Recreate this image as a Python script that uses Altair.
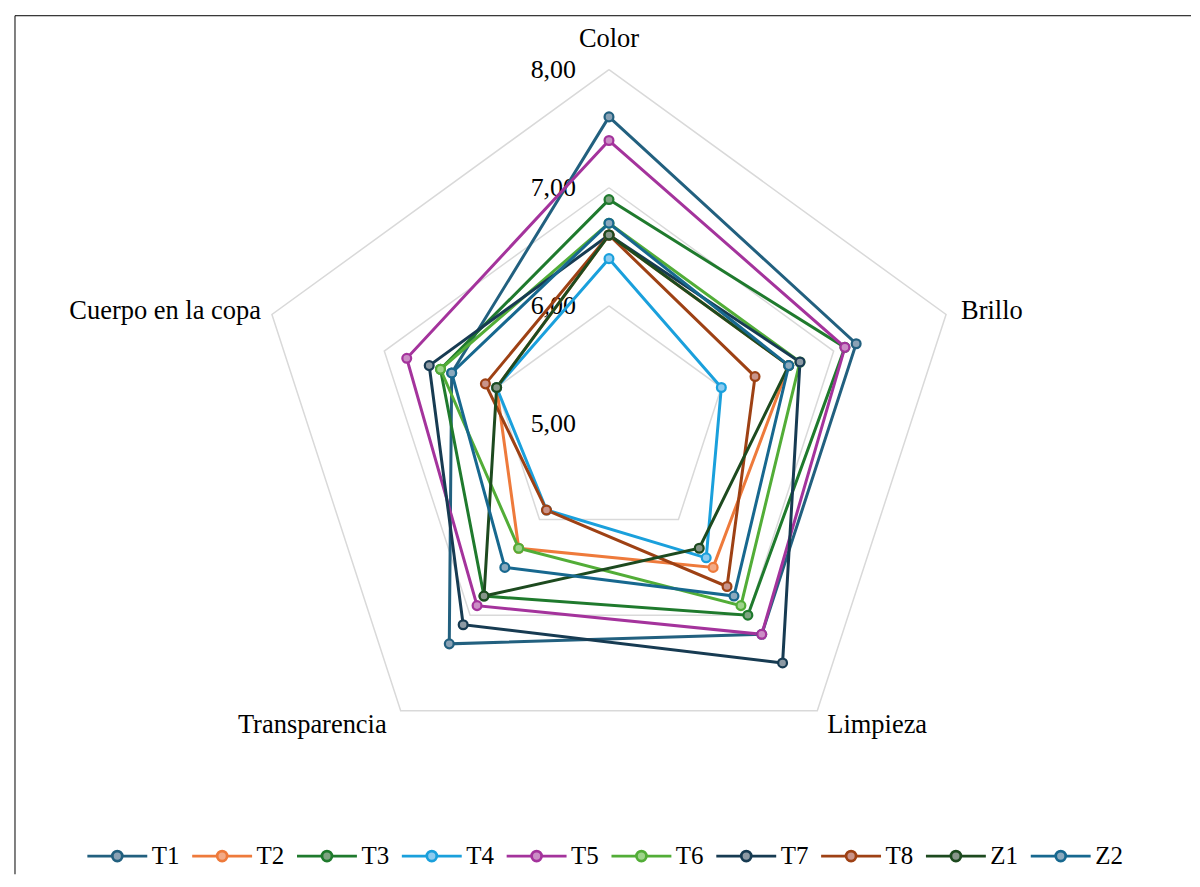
import altair as alt
import pandas as pd

categories = ["Color", "Brillo", "Limpieza", "Transparencia", "Cuerpo en la copa"]
series = ["T1", "T2", "T3", "T4", "T5", "T6", "T7", "T8", "Z1", "Z2"]

T1 = [7.6, 7.2, 7.2, 7.3, 6.4]
T2 = [6.6, 6.6, 6.5, 6.3, 6.0]
T3 = [6.9, 7.1, 7.0, 6.8, 6.5]
T4 = [6.4, 6.0, 6.4, 5.9, 6.0]
T5 = [7.4, 7.1, 7.2, 6.9, 6.8]
T6 = [6.7, 6.7, 6.9, 6.3, 6.5]
T7 = [6.6, 6.7, 7.5, 7.1, 6.6]
T8 = [6.6, 6.3, 6.7, 5.9, 6.1]
Z1 = [6.6, 6.6, 6.3, 6.8, 6.0]
Z2 = [6.7, 6.6, 6.8, 6.5, 6.4]
values = [T1, T2, T3, T4, T5, T6, T7, T8, Z1, Z2]

line_colors = ["#22607F", "#EE7A3B", "#1F7A2D", "#1AA0DC", "#A4339C",
               "#52AD37", "#173B52", "#9E4114", "#1D4A1F", "#17688F"]
fill_colors = ["#8AA2B5", "#F2AA86", "#7FA482", "#8DCBEF", "#CB8EC6",
               "#9ED38B", "#8D9AA4", "#C9948A", "#87968A", "#8BA9BD"]

grid_levels = [6, 7, 8]
tick_values = [5, 6, 7, 8]
tick_labels = ["5,00", "6,00", "7,00", "8,00"]
center_value = 5

# ---- tables built from the arrays ----
rows = []
for s_i, (name, vals) in enumerate(zip(series, values)):
    for k in range(6):
        idx = k % 5
        rows.append(dict(series=name, sidx=s_i, order=k, idx=idx,
                         cat=categories[idx], value=vals[idx]))
df = pd.DataFrame(rows)

grid_rows = []
for lv in grid_levels:
    for k in range(6):
        grid_rows.append(dict(level=lv, order=k, idx=k % 5, value=lv))
grid_df = pd.DataFrame(grid_rows)

tick_df = pd.DataFrame({"value": tick_values, "label": tick_labels, "idx": 0})
cat_df = pd.DataFrame({"cat": categories, "idx": list(range(5)),
                       "value": [max(grid_levels)] * 5})

W, H = 1178, 860
PX = 355 / 3.0
CX, CY = 595, 409
xdom = [-CX / PX, (W - CX) / PX]
ydom = [-(H - CY) / PX, CY / PX]

xs = alt.Scale(domain=xdom, nice=False, zero=False)
ys = alt.Scale(domain=ydom, nice=False, zero=False)


def polar(ch):
    return ch.transform_calculate(
        x=f"(datum.value-{center_value})*sin(2*PI*datum.idx/5)",
        y=f"(datum.value-{center_value})*cos(2*PI*datum.idx/5)",
    )


X = alt.X("x:Q", scale=xs, axis=None)
Y = alt.Y("y:Q", scale=ys, axis=None)

FONT = "Liberation Serif"

grid = polar(alt.Chart(grid_df)).mark_line(
    color="#D9D9D9", strokeWidth=1.5
).encode(x=X, y=Y, detail="level:N", order="order:Q")

ticks = polar(alt.Chart(tick_df)).mark_text(
    align="right", baseline="middle", dx=-33, font=FONT, fontSize=26, color="black"
).encode(x=X, y=Y, text="label:N")

legend = alt.Legend(
    orient="none", legendX=70, legendY=829, direction="horizontal", columns=10,
    title=None,
    symbolType="M-3,0H-0.5M0.5,0H3M-0.5,0A0.5,0.5,0,1,0,0.5,0A0.5,0.5,0,1,0,-0.5,0Z",
    symbolSize=400, symbolStrokeWidth=2.75, symbolOffset=20, labelOffset=22,
    columnPadding=7, labelFont=FONT, labelFontSize=25, labelColor="black",
    labelLimit=0,
)

stroke_scale = alt.Scale(domain=series, range=line_colors)
fill_scale = alt.Scale(domain=series, range=fill_colors)

lines = polar(alt.Chart(df)).mark_line(strokeWidth=3).encode(
    x=X, y=Y,
    stroke=alt.Stroke("series:N", scale=stroke_scale, legend=legend, sort=series),
    order="order:Q",
)

points = polar(alt.Chart(df).transform_filter("datum.order < 5")).mark_point(
    shape="circle", size=78, strokeWidth=2.25, filled=True, opacity=1, fillOpacity=1
).encode(
    x=X, y=Y,
    stroke=alt.Stroke("series:N", scale=stroke_scale, legend=legend, sort=series),
    fill=alt.Fill("series:N", scale=fill_scale, legend=legend, sort=series),
    order="sidx:Q",
)

label_specs = [
    (0, dict(align="center", baseline="middle", dx=0, dy=-31)),
    (1, dict(align="left", baseline="middle", dx=15, dy=-4)),
    (2, dict(align="left", baseline="middle", dx=10, dy=14)),
    (3, dict(align="right", baseline="middle", dx=-14, dy=14)),
    (4, dict(align="right", baseline="middle", dx=-11, dy=-4)),
]
cat_layers = []
for i, props in label_specs:
    cat_layers.append(
        polar(alt.Chart(cat_df).transform_filter(f"datum.idx == {i}")).mark_text(
            font=FONT, fontSize=26.5, color="black", **props
        ).encode(x=X, y=Y, text="cat:N")
    )

one = alt.Data(values=[{}])
top_border = alt.Chart(one).mark_rule(color="black", strokeWidth=1).encode(
    x=alt.value(0), x2=alt.value(W), y=alt.value(0))
left_border = alt.Chart(one).mark_rule(color="black", strokeWidth=1).encode(
    x=alt.value(0), y=alt.value(0), y2=alt.value(H))

chart = alt.layer(
    grid, ticks, lines, points, *cat_layers, top_border, left_border
).properties(
    width=W, height=H,
    padding={"left": 6, "top": 6, "right": 0, "bottom": 0},
).configure_view(stroke=None)

chart.save("out.html", embed_options={"renderer": "svg", "actions": False})
